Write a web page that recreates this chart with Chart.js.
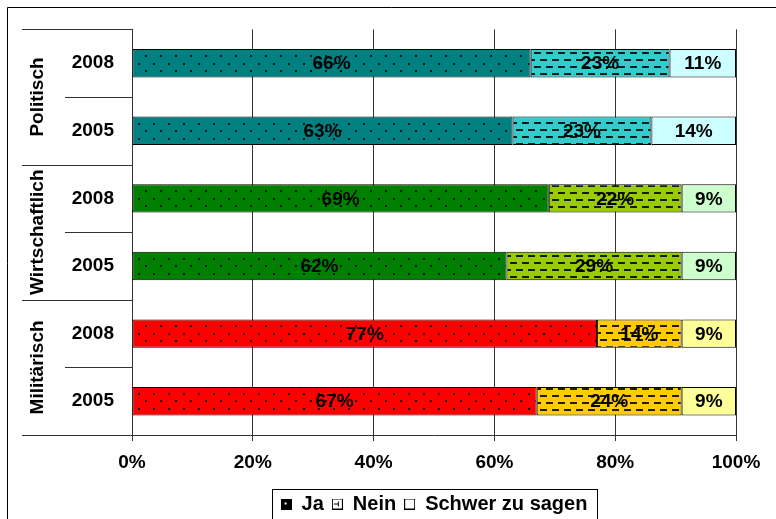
<!DOCTYPE html>
<html>
<head>
<meta charset="utf-8">
<script src="https://cdn.jsdelivr.net/npm/chart.js@4/dist/chart.umd.min.js"></script>
<style>
  body { margin: 0; background: #fff; }
  #wrap { width: 776px; height: 519px; }
</style>
</head>
<body>
<div id="wrap"><canvas id="chart" width="776" height="519"></canvas></div>
<script>
// data
const groups = ['Politisch', 'Wirtschaftlich', 'Militärisch'];
const years = ['2008', '2005', '2008', '2005', '2008', '2005'];
const ja = [66, 63, 69, 62, 77, 67];
const nein = [23, 23, 22, 29, 14, 24];
const schwer = [11, 14, 9, 9, 9, 9];
const seriesNames = ['Ja', 'Nein', 'Schwer zu sagen'];

// colours per group: [Ja, Nein, Schwer zu sagen]
const groupColors = [
    ['#008080', '#33CCCC', '#CCFFFF'],
    ['#008000', '#99CC00', '#CCFFCC'],
    ['#FF0000', '#FFCC00', '#FFFF99']
];

const FONT = 'Liberation Sans, Arial, sans-serif';

function dotPattern(color) {
    const c = document.createElement('canvas');
    c.width = 15; c.height = 15;
    const g = c.getContext('2d');
    g.fillStyle = color;
    g.fillRect(0, 0, 15, 15);
    g.fillStyle = 'rgba(0,0,0,0.85)';
    g.fillRect(3, 3, 2, 2);
    g.fillRect(10, 10, 2, 2);
    return g.createPattern(c, 'repeat');
}

function dashPattern(color) {
    const c = document.createElement('canvas');
    c.width = 12; c.height = 14;
    const g = c.getContext('2d');
    g.fillStyle = color;
    g.fillRect(0, 0, 12, 14);
    g.fillStyle = 'rgba(10,10,10,0.9)';
    g.fillRect(0, 3, 7, 2);
    g.fillRect(6, 10, 7, 2);
    g.fillRect(0, 10, 1, 2);
    return g.createPattern(c, 'repeat');
}

function rowColors(idx, fn) {
    return years.map((y, i) => {
        const col = groupColors[Math.floor(i / 2)][idx];
        return fn ? fn(col) : col;
    });
}

function legendMarker(kind) {
    const c = document.createElement('canvas');
    c.width = 11; c.height = 11;
    const g = c.getContext('2d');
    g.fillStyle = kind === 0 ? '#000' : '#fff';
    g.fillRect(0, 0, 11, 11);
    g.strokeStyle = '#000';
    g.lineWidth = 1;
    g.strokeRect(0.5, 0.5, 10, 10);
    if (kind === 0) {
        g.fillStyle = '#fff';
        g.fillRect(4, 4, 2, 2);
    } else if (kind === 1) {
        g.fillStyle = '#000';
        g.fillRect(2, 5, 5, 1);
        g.fillRect(6, 3, 1, 5);
    }
    return c;
}
const markers = [legendMarker(0), legendMarker(1), legendMarker(2)];

const datasets = [
    { label: seriesNames[0], data: ja, backgroundColor: rowColors(0, dotPattern) },
    { label: seriesNames[1], data: nein, backgroundColor: rowColors(1, dashPattern) },
    { label: seriesNames[2], data: schwer, backgroundColor: rowColors(2) }
].map(d => Object.assign(d, {
    borderColor: '#000',
    borderWidth: 1,
    borderSkipped: false,
    barPercentage: 0.42,
    categoryPercentage: 1
}));

// value labels in the middle of each segment
const valueLabels = {
    id: 'valueLabels',
    afterDatasetsDraw(chart) {
        const ctx = chart.ctx;
        ctx.save();
        ctx.font = 'bold 19px ' + FONT;
        ctx.fillStyle = '#000';
        ctx.textAlign = 'center';
        ctx.textBaseline = 'middle';
        chart.data.datasets.forEach((ds, i) => {
            chart.getDatasetMeta(i).data.forEach((bar, j) => {
                ctx.fillText(ds.data[j] + '%', (bar.x + bar.base) / 2, bar.y + 1);
            });
        });
        ctx.restore();
    }
};

// group labels, separator lines, frame and legend box
const decorations = {
    id: 'decorations',
    afterDraw(chart) {
        const ctx = chart.ctx;
        const y = chart.scales.y;
        const area = chart.chartArea;
        const band = y.getPixelForValue(1) - y.getPixelForValue(0);
        ctx.save();
        ctx.strokeStyle = '#333';
        ctx.lineWidth = 1;
        years.forEach((yr, i) => {
            const top = Math.round(y.getPixelForValue(i) - band / 2) + 0.5;
            const startX = i % 2 === 0 ? 22 : 65;
            ctx.beginPath();
            ctx.moveTo(startX, top);
            ctx.lineTo(area.left, top);
            ctx.stroke();
        });
        const bottom = Math.round(area.bottom) + 0.5;
        ctx.beginPath();
        ctx.moveTo(22, bottom);
        ctx.lineTo(area.left, bottom);
        ctx.stroke();

        ctx.fillStyle = '#000';
        ctx.font = 'bold 19px ' + FONT;
        ctx.textAlign = 'center';
        ctx.textBaseline = 'middle';
        groups.forEach((name, g) => {
            const cy = (y.getPixelForValue(2 * g) + y.getPixelForValue(2 * g + 1)) / 2;
            ctx.save();
            ctx.translate(38, cy);
            ctx.rotate(-Math.PI / 2);
            ctx.fillText(name, 0, 0);
            ctx.restore();
        });

        // outer frame (only top and left are inside the picture)
        ctx.strokeStyle = '#000';
        ctx.beginPath();
        ctx.moveTo(7.5, chart.height);
        ctx.lineTo(7.5, 7.5);
        ctx.lineTo(chart.width, 7.5);
        ctx.stroke();

        // legend frame
        const hb = chart.legend.legendHitBoxes;
        if (hb && hb.length) {
            const l = Math.min(...hb.map(h => h.left)) - 9;
            const r = Math.max(...hb.map(h => h.left + h.width)) + 9;
            const cy = hb[0].top + hb[0].height / 2;
            ctx.strokeRect(Math.round(l) + 0.5, Math.round(cy - 15) + 0.5, Math.round(r - l), 30);
        }
        ctx.restore();
    }
};

new Chart(document.getElementById('chart'), {
    type: 'bar',
    data: { labels: years, datasets: datasets },
    options: {
        indexAxis: 'y',
        responsive: false,
        animation: false,
        layout: { padding: { top: 28, right: 40, bottom: -5, left: 0 } },
        scales: {
            x: {
                stacked: true,
                min: 0,
                max: 100,
                ticks: {
                    stepSize: 20,
                    callback: v => v + '%',
                    color: '#000',
                    font: { family: FONT, size: 19, weight: 'bold' },
                    padding: 10
                },
                grid: { color: '#333', tickLength: 6, drawTicks: true },
                border: { color: '#333' },
                afterFit: s => { s.height = 51; }
            },
            y: {
                stacked: true,
                ticks: {
                    color: '#000',
                    font: { family: FONT, size: 19, weight: 'bold' },
                    padding: 18
                },
                grid: { display: false, drawTicks: false },
                border: { display: true, color: '#333' },
                afterFit: s => { s.width = 132; }
            }
        },
        plugins: {
            legend: {
                position: 'bottom',
                fullSize: false,
                labels: {
                    usePointStyle: true,
                    color: '#000',
                    font: { family: FONT, size: 20, weight: 'bold' },
                    padding: 8,
                    boxWidth: 11,
                    boxHeight: 11,
                    generateLabels: chart => seriesNames.map((n, i) => ({
                        text: n,
                        pointStyle: markers[i],
                        datasetIndex: i,
                        hidden: false,
                        lineWidth: 0
                    }))
                }
            },
            tooltip: { enabled: false }
        }
    },
    plugins: [valueLabels, decorations]
});
</script>
</body>
</html>
